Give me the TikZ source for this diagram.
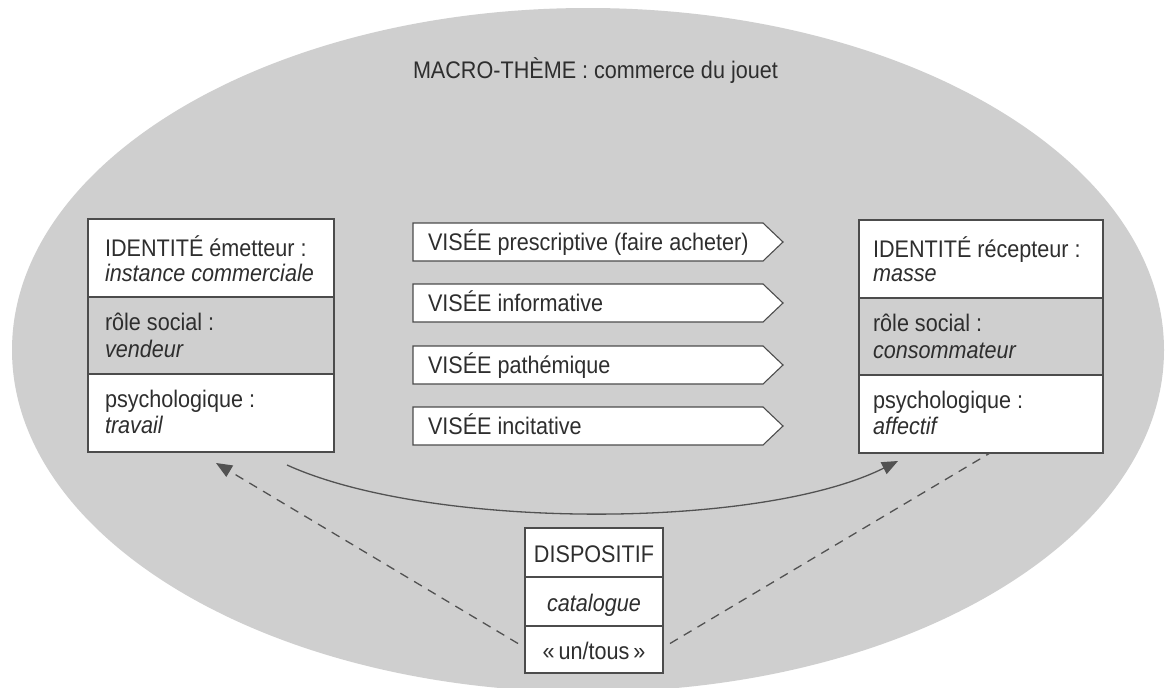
\documentclass[tikz,border=0pt]{standalone}
\usepackage{fontspec}
\setmainfont{Liberation Sans}[FakeStretch=0.9]
\usetikzlibrary{calc,arrows.meta}
\definecolor{bgc}{gray}{0.81}
\definecolor{linec}{gray}{0.30}
\definecolor{txtc}{gray}{0.18}
\definecolor{connc}{gray}{0.32}
\begin{document}
\begin{tikzpicture}[x=1pt,y=-1pt,
  every node/.style={font=\fontsize{24}{26}\selectfont, text=txtc},
  sect/.style={draw=linec, line width=1.1pt, inner sep=0pt, outer sep=0pt, anchor=north west},
  wsect/.style={sect, fill=white},
  txt/.style={anchor=base west, inner sep=0pt, outer sep=0pt},
  ctxt/.style={anchor=base, inner sep=0pt, outer sep=0pt},
  vbody/.style={anchor=north west, inner sep=0pt, outer sep=0pt, minimum width=350pt, minimum height=38pt},
  vshape/.style={draw=linec, line width=1.1pt, fill=white},
  conn/.style={draw=connc, line width=1.3pt},
  dconn/.style={conn, dash pattern=on 9pt off 7pt},
  tip/.style={-{Triangle[length=16pt,width=13pt]}}
]
\useasboundingbox (0,0) rectangle (1165,688);
\clip (0,0) rectangle (1165,688);
\fill[white] (0,0) rectangle (1165,688);
\fill[bgc] (588,350) ellipse [x radius=576pt, y radius=342pt];

% title
\node[txt] (T) at (413,78) {MACRO-THÈME : commerce du jouet};

% left box
\node[wsect, minimum width=246pt, minimum height=78pt] (L1) at (88,219) {};
\node[sect,  minimum width=246pt, minimum height=77pt] (L2) at (88,297) {};
\node[wsect, minimum width=246pt, minimum height=78pt] (L3) at (88,374) {};
\node[txt] (L1a) at (105,256) {IDENTITÉ émetteur :};
\node[txt] (L1b) at (105,281) {\itshape instance commerciale};
\node[txt] (L2a) at (105,330) {rôle social :};
\node[txt] (L2b) at (105,357) {\itshape vendeur};
\node[txt] (L3a) at (105,407) {psychologique :};
\node[txt] (L3b) at (105,433) {\itshape travail};

% right box
\node[wsect, minimum width=244pt, minimum height=78pt] (R1) at (859,220) {};
\node[sect,  minimum width=244pt, minimum height=77pt] (R2) at (859,298) {};
\node[wsect, minimum width=244pt, minimum height=78pt] (R3) at (859,375) {};
\node[txt] (R1a) at (873,257) {IDENTITÉ récepteur :};
\node[txt] (R1b) at (873,281) {\itshape masse};
\node[txt] (R2a) at (873,331) {rôle social :};
\node[txt] (R2b) at (873,358) {\itshape consommateur};
\node[txt] (R3a) at (873,408) {psychologique :};
\node[txt] (R3b) at (873,434) {\itshape affectif};

% visees
\foreach \i/\yy/\t in {1/223/{VISÉE prescriptive (faire acheter)},
                        2/284/{VISÉE informative},
                        3/346/{VISÉE pathémique},
                        4/407/{VISÉE incitative}} {
  \node[vbody] (V\i) at (413,\yy) {};
  \draw[vshape] (V\i.north west) -- (V\i.north east) -- ($(V\i.east)+(20,0)$)
        -- (V\i.south east) -- (V\i.south west) -- cycle;
  \node[txt] (VT\i) at ($(V\i.west)+(15,8)$) {\t};
}

% dispositif
\node[wsect, minimum width=138pt, minimum height=49pt] (D1) at (525,528) {};
\node[wsect, minimum width=138pt, minimum height=49pt] (D2) at (525,577) {};
\node[wsect, minimum width=138pt, minimum height=47pt] (D3) at (525,626) {};
\node[ctxt] (D1t) at ($(D1.center)+(0,9.5)$) {DISPOSITIF};
\node[ctxt] (D2t) at ($(D2.center)+(0,9.5)$) {\itshape catalogue};
\node[ctxt] (D3t) at ($(D3.center)+(0,9.5)$) {«\,un/tous\,»};

% connectors
\coordinate (cs) at ($(L3.south west)+(199,13)$);
\coordinate (ce) at ($(R3.south west)+(39,8)$);
\draw[conn, tip] (cs) .. controls +(143,65) and +(-138,69) .. (ce);

\coordinate (dl) at ($(D3.west)+(-7,-6)$);
\coordinate (lt) at ($(L3.south west)+(128,11)$);
\draw[dconn, tip] (dl) -- (lt);

\coordinate (dr) at ($(D3.east)+(7,-6)$);
\coordinate (rt) at ($(R3.south west)+(131,0)$);
\draw[dconn] (dr) -- (rt);
\end{tikzpicture}
\end{document}
